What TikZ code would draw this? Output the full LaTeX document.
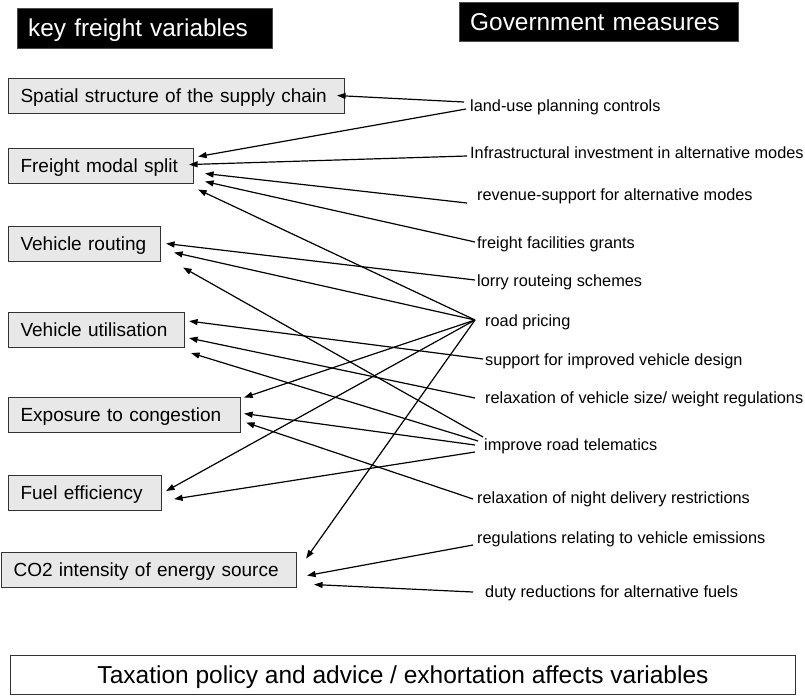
\documentclass[tikz,border=0pt]{standalone}
\usepackage{fontspec}
\setmainfont{Liberation Sans}
\usetikzlibrary{arrows.meta}
\begin{document}
\begin{tikzpicture}[x=1pt,y=-1pt,
  var/.style={draw=black!80, line width=1.1pt, fill=black!9, anchor=north west,
    minimum height=35pt, inner xsep=12pt, inner ysep=0pt, align=left,
    text width=#1, font=\fontsize{19}{22}\selectfont, text height=13.6pt, text depth=0pt},
  ttl/.style={fill=black, draw=black!70, text=white, anchor=north west,
    inner xsep=11pt, inner ysep=0pt, align=left, text width=#1,
    font=\fontsize{24.4}{28}\selectfont, text height=17.5pt, text depth=0pt},
  meas/.style={anchor=base west, inner sep=0pt, font=\fontsize{16.3}{19}\selectfont},
  arr/.style={line width=1.2pt, -{Triangle[length=8.5pt,width=6pt]}}
]
\useasboundingbox (0,0) rectangle (805,696);

% titles
\node[ttl=233pt, minimum height=40pt] (t1) at (17,8) {key freight variables};
\node[ttl=257pt, minimum height=39pt] (t2) at (459,2) {Government measures};

% key freight variables
\node[var=312pt] (sp)   at (8,78)  {Spatial structure of the supply chain};
\node[var=161pt] (fms)  at (8,148) {Freight modal split};
\node[var=128pt] (vr)   at (8,226) {Vehicle routing};
\node[var=152pt] (vu)   at (8,312) {Vehicle utilisation};
\node[var=208pt] (exp)  at (8,397) {Exposure to congestion};
\node[var=129pt] (fuel) at (8,475) {Fuel efficiency};
\node[var=271pt] (co2)  at (1,552) {CO2 intensity of energy source};

% government measures
\node[meas] (land)  at (470,111) {land-use planning controls};
\node[meas] (infra) at (470,158) {Infrastructural investment in alternative modes};
\node[meas] (rev)   at (477,200) {revenue-support for alternative modes};
\node[meas] (ffg)   at (477,248) {freight facilities grants};
\node[meas] (lorry) at (477,286) {lorry routeing schemes};
\node[meas] (road)  at (485,326) {road pricing};
\node[meas] (supp)  at (485,365) {support for improved vehicle design};
\node[meas] (rsize) at (485,403) {relaxation of vehicle size/ weight regulations};
\node[meas] (tele)  at (484,450) {improve road telematics};
\node[meas] (night) at (477,503) {relaxation of night delivery restrictions};
\node[meas] (regs)  at (477,543) {regulations relating to vehicle emissions};
\node[meas] (duty)  at (485,597) {duty reductions for alternative fuels};

% bottom box
\node[draw=black!80, line width=1pt, anchor=north west, minimum width=785pt,
  minimum height=39pt, inner sep=0pt, font=\fontsize{24.5}{28}\selectfont,
  text height=17.5pt, text depth=0pt] (tax) at (10,655)
  {Taxation policy and advice / exhortation affects variables};

% connectors
\draw[arr] ([shift={(-6,-9)}]land.base west) -- ([shift={(-8,-0.5)}]sp.east);
\draw[arr] ([shift={(-4,-2)}]land.base west) -- ([shift={(4,-9.5)}]fms.east);
\draw[arr] ([shift={(-3,-2)}]infra.base west) -- ([shift={(-5,-1.5)}]fms.east);
\draw[arr] ([shift={(-10,3)}]rev.base west) -- ([shift={(11,7.5)}]fms.east);
\draw[arr] ([shift={(-2,-6)}]ffg.base west) -- ([shift={(11,15.5)}]fms.east);
\draw[arr] ([shift={(-10,-6)}]road.base west) -- ([shift={(4,23.5)}]fms.east);

\draw[arr] ([shift={(-2,-6)}]lorry.base west) -- ([shift={(5,-0.5)}]vr.east);
\draw[arr] ([shift={(-10,-6)}]road.base west) -- ([shift={(13,8.5)}]vr.east);
\draw[arr] ([shift={(-1,-13)}]tele.base west) -- ([shift={(22,23.5)}]vr.east);

\draw[arr] ([shift={(-2,-6)}]supp.base west) -- ([shift={(4,-9)}]vu.east);
\draw[arr] ([shift={(-10,-5)}]rsize.base west) -- ([shift={(4,8)}]vu.east);
\draw[arr] ([shift={(-6,-9)}]tele.base west) -- ([shift={(6,23)}]vu.east);

\draw[arr] ([shift={(-10,-6)}]road.base west) -- ([shift={(3,-17.5)}]exp.east);
\draw[arr] ([shift={(-9,-5)}]tele.base west) -- ([shift={(3,-1.5)}]exp.east);
\draw[arr] ([shift={(-4,-4)}]night.base west) -- ([shift={(5,7.5)}]exp.east);

\draw[arr] ([shift={(-10,-6)}]road.base west) -- ([shift={(4,-2)}]fuel.east);
\draw[arr] ([shift={(-9,2)}]tele.base west) -- ([shift={(12,6)}]fuel.east);

\draw[arr] ([shift={(-10,-6)}]road.base west) -- ([shift={(9,-11.5)}]co2.east);
\draw[arr] ([shift={(-4,2)}]regs.base west) -- ([shift={(10,5.5)}]co2.east);
\draw[arr] ([shift={(-12,-5)}]duty.base west) -- ([shift={(17,14.5)}]co2.east);
\end{tikzpicture}
\end{document}
